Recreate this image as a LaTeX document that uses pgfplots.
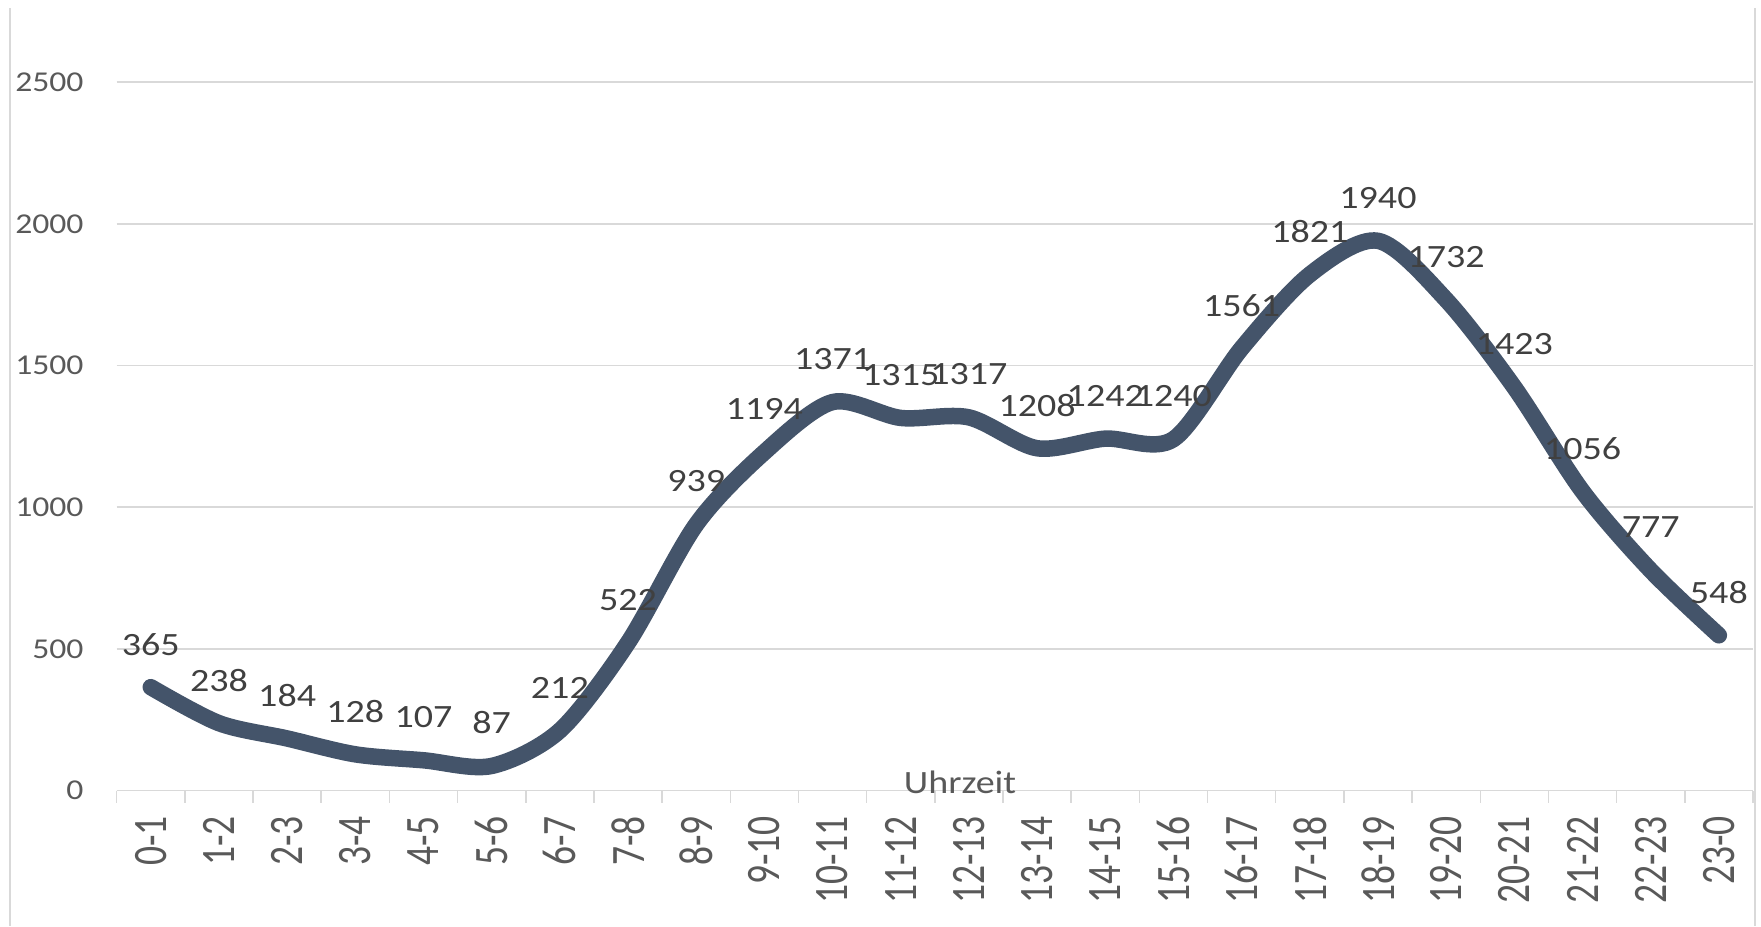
\documentclass[border=0pt]{standalone}
\usepackage{fontspec}
\setmainfont{Carlito}[FakeStretch=1.17]
\newfontfamily\xfont{Carlito}
\usepackage{graphicx}
\usepackage{pgfplots}
\pgfplotsset{compat=1.18}
\definecolor{linec}{HTML}{44546A}
\definecolor{gridc}{HTML}{D9D9D9}
\definecolor{labc}{HTML}{595959}
\definecolor{datc}{HTML}{404040}
\newcommand\xl[1]{\scalebox{1}[1.28]{#1}}
\begin{document}
\begin{tikzpicture}
\begin{axis}[
  scale only axis,
  width=654.5pt, height=283.4pt,
  at={(0,0)}, anchor=south west,
  xmin=-0.5, xmax=23.5,
  ymin=0, ymax=2500,
  axis lines*=left,
  y axis line style={draw=none},
  x axis line style={draw=gridc, line width=0.6pt},
  ytick={0,500,1000,1500,2000,2500},
  yticklabels={0,500,1000,1500,2000,2500},
  ymajorgrids,
  grid style={gridc, line width=0.6pt},
  major tick length=0pt,
  tick align=outside,
  xtick={0,...,23},
  xticklabels={\xl{0-1},\xl{1-2},\xl{2-3},\xl{3-4},\xl{4-5},\xl{5-6},\xl{6-7},\xl{7-8},\xl{8-9},\xl{9-10},\xl{10-11},\xl{11-12},\xl{12-13},\xl{13-14},\xl{14-15},\xl{15-16},\xl{16-17},\xl{17-18},\xl{18-19},\xl{19-20},\xl{20-21},\xl{21-22},\xl{22-23},\xl{23-0}},
  minor xtick={-0.5,0.5,...,23.5},
  minor tick length=4.8pt,
  minor x tick style={draw=gridc, line width=0.6pt},
  xmajorgrids=false, xminorgrids=false,
  xtick style={draw=none},
  ytick style={draw=none},
  xticklabel style={rotate=90, anchor=east, inner sep=0pt, font=\xfont\fontsize{15}{15}\selectfont, text=labc},
  xticklabel shift=10pt,
  yticklabel style={anchor=east, inner sep=0pt, font=\fontsize{11.5}{11.5}\selectfont, text=labc},
  yticklabel shift=13.1pt,
  /pgf/number format/1000 sep={},
  /pgf/number format/assume math mode=true,
  clip=false,
]
\addplot[draw=none, smooth, nodes near coords,
  nodes near coords style={anchor=center, yshift=17.2pt, inner sep=0pt, font=\fontsize{13}{13}\selectfont, text=datc}]
  coordinates {(0,365)(1,238)(2,184)(3,128)(4,107)(5,87)(6,212)(7,522)(8,939)(9,1194)(10,1371)(11,1315)(12,1317)(13,1208)(14,1242)(15,1240)(16,1561)(17,1821)(18,1940)(19,1732)(20,1423)(21,1056)(22,777)(23,548)};
\addplot[linec, line width=6.6pt, line cap=round, line join=round, smooth, tension=0.5, mark=none]
  coordinates {(0,365)(1,238)(2,184)(3,128)(4,107)(5,87)(6,212)(7,522)(8,939)(9,1194)(10,1371)(11,1315)(12,1317)(13,1208)(14,1242)(15,1240)(16,1561)(17,1821)(18,1940)(19,1732)(20,1423)(21,1056)(22,777)(23,548)};
\node[anchor=base, inner sep=0pt, font=\fontsize{13}{13}\selectfont, text=labc] at (axis cs:11.87,0) [yshift=-1.2pt] {Uhrzeit};
\end{axis}
\draw[gridc, line width=0.5pt] (-42.68pt,313.04pt) -- (-42.68pt,-54.16pt);
\draw[gridc, line width=0.5pt] (655.32pt,313.04pt) -- (655.32pt,-54.16pt);
\pgfresetboundingbox
\path[use as bounding box] (-46.68pt,-54.16pt) rectangle (657.72pt,316.24pt);
\end{tikzpicture}
\end{document}
